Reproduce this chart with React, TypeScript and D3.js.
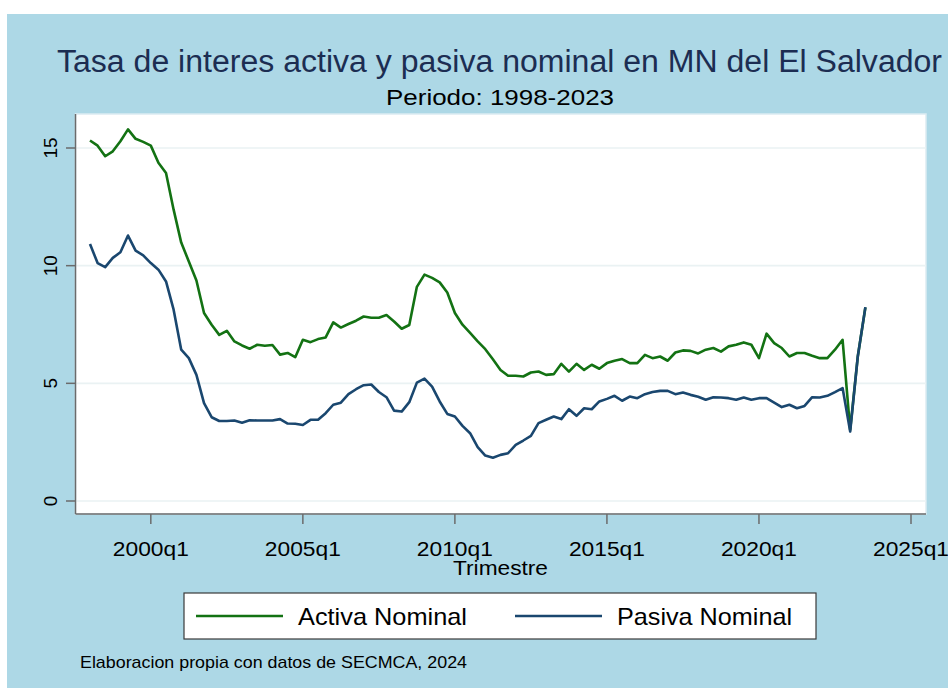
import * as d3 from "d3";

// quarterly series 1998q1 .. 2023q3
const startYear = 1998;

const activa = [
  15.32, 15.1, 14.65, 14.86, 15.29, 15.79, 15.39, 15.26,
  15.1, 14.37, 13.94, 12.38, 10.98, 10.18, 9.37, 7.99,
  7.49, 7.06, 7.23, 6.78, 6.61, 6.47, 6.64, 6.6,
  6.63, 6.22, 6.29, 6.11, 6.85, 6.75, 6.88, 6.95,
  7.59, 7.37, 7.52, 7.66, 7.84, 7.79, 7.79, 7.9,
  7.63, 7.32, 7.48, 9.1, 9.62, 9.48, 9.29, 8.86,
  7.99, 7.49, 7.14, 6.78, 6.45, 6.02, 5.57, 5.32,
  5.32, 5.29, 5.46, 5.5, 5.36, 5.39, 5.83, 5.5,
  5.83, 5.57, 5.79, 5.62, 5.86, 5.96, 6.03, 5.86,
  5.86, 6.21, 6.07, 6.14, 5.96, 6.31, 6.4, 6.38,
  6.27, 6.43, 6.5, 6.35, 6.57, 6.64, 6.74, 6.64,
  6.07, 7.11, 6.71, 6.5, 6.14, 6.29, 6.29, 6.17,
  6.07, 6.07, 6.43, 6.85, 3.02, 6.14, 8.22,
];

const pasiva = [
  10.92, 10.11, 9.94, 10.33, 10.57, 11.28, 10.64, 10.44,
  10.11, 9.83, 9.33, 8.13, 6.43, 6.07, 5.36, 4.16,
  3.56, 3.4, 3.4, 3.42, 3.33, 3.43, 3.42, 3.42,
  3.42, 3.48, 3.29, 3.28, 3.23, 3.45, 3.45, 3.73,
  4.09, 4.18, 4.54, 4.75, 4.92, 4.95, 4.63, 4.41,
  3.84, 3.8, 4.2, 5.03, 5.2, 4.86, 4.23, 3.7,
  3.59, 3.19, 2.88, 2.29, 1.93, 1.84, 1.96, 2.03,
  2.38, 2.57, 2.77, 3.31, 3.45, 3.59, 3.48, 3.9,
  3.62, 3.94, 3.9, 4.23, 4.34, 4.47, 4.26, 4.44,
  4.37, 4.54, 4.63, 4.68, 4.68, 4.54, 4.61, 4.51,
  4.43, 4.3, 4.41, 4.4, 4.37, 4.3, 4.4, 4.3,
  4.37, 4.37, 4.18, 3.99, 4.09, 3.94, 4.04, 4.41,
  4.4, 4.47, 4.63, 4.8, 2.95, 6.14, 8.24,
];

const xTickYears = [2000, 2005, 2010, 2015, 2020, 2025];
const yTicks = [0, 5, 10, 15];

const seriesNames = ["Activa Nominal", "Pasiva Nominal"];
const colors = ["#137213", "#1a476f"];

const FONT = "'Liberation Sans', Arial, Helvetica, sans-serif";

export default function App() {
  const W = 948;
  const H = 690;
  const plot = { left: 75.5, right: 926, top: 114, bottom: 514 };

  const x = d3.scaleLinear().domain([1998, 2025]).range([90, 911]);
  const y = d3.scaleLinear().domain([0, 15]).range([501, 148]);

  const t = (i: number) => startYear + i / 4;

  const line = d3
    .line<number>()
    .x((_, i) => x(t(i)))
    .y((d) => y(d));

  return (
    <div style={{ position: "absolute", left: 0, top: 0 }}>
      <svg width={W} height={H} style={{ display: "block", fontFamily: FONT }}>
        <rect x={0} y={0} width={W} height={H} fill="#ffffff" />
        <rect x={7} y={14} width={W - 7} height={674} fill="#add8e6" />

        {/* title */}
        <text x={57} y={72} fontSize={31} fill="#1c2d52" textLength={885} lengthAdjust="spacingAndGlyphs">
          Tasa de interes activa y pasiva nominal en MN del El Salvador
        </text>
        <text x={386} y={105} fontSize={22} fill="#000" textLength={228} lengthAdjust="spacingAndGlyphs">
          Periodo: 1998-2023
        </text>

        {/* plot region */}
        <rect
          x={plot.left}
          y={plot.top}
          width={plot.right - plot.left}
          height={plot.bottom - plot.top}
          fill="#ffffff"
          stroke="#dcebf2"
          strokeWidth={1.5}
        />
        {yTicks.map((v) => (
          <line key={"g" + v} x1={plot.left} x2={plot.right} y1={y(v)} y2={y(v)} stroke="#eaf2f3" strokeWidth={1.6} />
        ))}

        {/* series */}
        <path d={line(activa) ?? ""} fill="none" stroke={colors[0]} strokeWidth={2.6} strokeLinejoin="round" />
        <path d={line(pasiva) ?? ""} fill="none" stroke={colors[1]} strokeWidth={2.6} strokeLinejoin="round" />

        {/* axes */}
        <line x1={plot.left} x2={plot.left} y1={plot.top} y2={plot.bottom} stroke="#6b6b6b" strokeWidth={1.5} />
        <line x1={plot.left} x2={plot.right} y1={plot.bottom} y2={plot.bottom} stroke="#6b6b6b" strokeWidth={1.5} />
        {yTicks.map((v) => (
          <g key={"y" + v}>
            <line x1={plot.left - 9.5} x2={plot.left} y1={y(v)} y2={y(v)} stroke="#6b6b6b" strokeWidth={1.5} />
            <text
              transform={`translate(57,${y(v)}) rotate(-90)`}
              textAnchor="middle"
              fontSize={19}
              fill="#000"
            >
              {v}
            </text>
          </g>
        ))}
        {xTickYears.map((yr) => (
          <g key={"x" + yr}>
            <line x1={x(yr)} x2={x(yr)} y1={plot.bottom} y2={plot.bottom + 10} stroke="#6b6b6b" strokeWidth={1.5} />
            <text
              x={x(yr)}
              y={556}
              textAnchor="middle"
              fontSize={20}
              fill="#000"
              textLength={76}
              lengthAdjust="spacingAndGlyphs"
            >
              {yr + "q1"}
            </text>
          </g>
        ))}
        <text x={500.5} y={575} textAnchor="middle" fontSize={20} fill="#000" textLength={95} lengthAdjust="spacingAndGlyphs">
          Trimestre
        </text>

        {/* legend */}
        <rect x={184} y={593} width={632} height={46} fill="#ffffff" stroke="#3a3a3a" strokeWidth={1.2} />
        <line x1={196} x2={283} y1={616} y2={616} stroke={colors[0]} strokeWidth={2.6} />
        <text x={298} y={625} fontSize={24} fill="#000" textLength={169} lengthAdjust="spacingAndGlyphs">
          {seriesNames[0]}
        </text>
        <line x1={515} x2={602} y1={616} y2={616} stroke={colors[1]} strokeWidth={2.6} />
        <text x={617} y={625} fontSize={24} fill="#000" textLength={175} lengthAdjust="spacingAndGlyphs">
          {seriesNames[1]}
        </text>

        {/* note */}
        <text x={80} y={668} fontSize={17} fill="#000" textLength={387} lengthAdjust="spacingAndGlyphs">
          Elaboracion propia con datos de SECMCA, 2024
        </text>
      </svg>
    </div>
  );
}
